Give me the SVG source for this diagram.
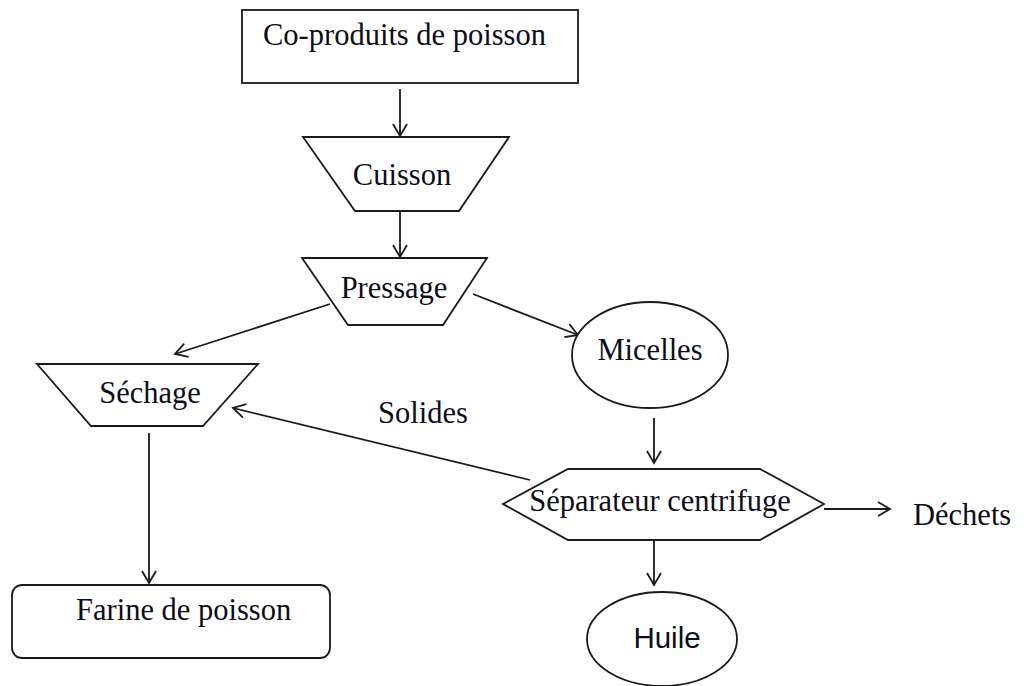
<svg xmlns="http://www.w3.org/2000/svg" width="1027" height="686" viewBox="0 0 1027 686">
<style>
.shape{fill:#fff;stroke:#1a1a1a;stroke-width:1.8}
.lbl{font-family:"Liberation Serif","Times New Roman",serif;font-size:30.5px;fill:#0d0d1a}
.sans{font-family:"Liberation Sans",Arial,sans-serif;font-size:29.5px;fill:#0d0d1a}
.conn{fill:none;stroke:#1a1a1a;stroke-width:1.8}
</style>
<defs>
<marker id="arr" markerUnits="userSpaceOnUse" markerWidth="16" markerHeight="18" refX="13" refY="9" orient="auto">
<path d="M1,2 L13,9 L1,16" fill="none" stroke="#1a1a1a" stroke-width="1.8"/>
</marker>
</defs>
<rect width="1027" height="686" fill="#fff"/>
<g id="connectors">
<line class="conn" x1="400" y1="89" x2="400" y2="136" marker-end="url(#arr)"/>
<line class="conn" x1="400" y1="211" x2="400" y2="257" marker-end="url(#arr)"/>
<line class="conn" x1="330" y1="304" x2="175" y2="354" marker-end="url(#arr)"/>
<line class="conn" x1="473" y1="294" x2="578" y2="335" marker-end="url(#arr)"/>
<line class="conn" x1="654" y1="418" x2="654" y2="463" marker-end="url(#arr)"/>
<line class="conn" x1="530" y1="480" x2="233" y2="408" marker-end="url(#arr)"/>
<line class="conn" x1="824" y1="509" x2="890" y2="509" marker-end="url(#arr)"/>
<line class="conn" x1="654" y1="540" x2="654" y2="585" marker-end="url(#arr)"/>
<line class="conn" x1="149" y1="433" x2="149" y2="583" marker-end="url(#arr)"/>
</g>
<g id="coproduits">
<rect class="shape" x="242" y="10" width="336" height="73"/>
<text class="lbl" x="263" y="45">Co-produits de poisson</text>
</g>
<g id="cuisson">
<polygon class="shape" points="303,137 509,137 459,211 355,211"/>
<text class="lbl" x="402" y="185" text-anchor="middle">Cuisson</text>
</g>
<g id="pressage">
<polygon class="shape" points="302,258 487,258 443,325 348,325"/>
<text class="lbl" x="394" y="298" text-anchor="middle">Pressage</text>
</g>
<g id="sechage">
<polygon class="shape" points="37,364 258,364 203,426 91,426"/>
<text class="lbl" x="150" y="403" text-anchor="middle">Séchage</text>
</g>
<g id="micelles">
<ellipse class="shape" cx="650" cy="355" rx="78" ry="53"/>
<text class="lbl" x="650" y="360" text-anchor="middle">Micelles</text>
</g>
<g id="solides">
<text class="lbl" x="378" y="423">Solides</text>
</g>
<g id="separateur">
<polygon class="shape" points="503,504 568,469 760,469 824,504 760,540 568,540"/>
<text class="lbl" x="660" y="511" text-anchor="middle">Séparateur centrifuge</text>
</g>
<g id="dechets">
<text class="lbl" x="913" y="525">Déchets</text>
</g>
<g id="huile">
<ellipse class="shape" cx="662" cy="639" rx="75" ry="47"/>
<text class="sans" x="667" y="648" text-anchor="middle">Huile</text>
</g>
<g id="farine">
<rect class="shape" x="12" y="585" width="318" height="73" rx="10"/>
<text class="lbl" x="76" y="620">Farine de poisson</text>
</g>
</svg>
